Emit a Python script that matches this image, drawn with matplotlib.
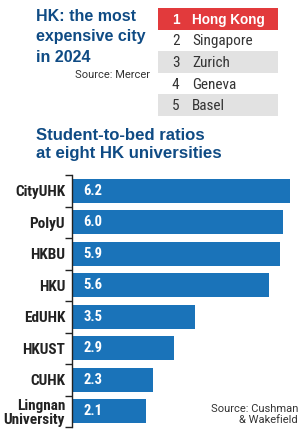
import matplotlib
matplotlib.use("Agg")
import matplotlib.pyplot as plt
from matplotlib import font_manager
from matplotlib.patches import Rectangle

# ---- data ----
title_lines = ["HK: the most", "expensive city", "in 2024"]
title_source = "Source: Mercer"
ranks = ["1", "2", "3", "4", "5"]
cities = ["Hong Kong", "Singapore", "Zurich", "Geneva", "Basel"]
subtitle_lines = ["Student-to-bed ratios", "at eight HK universities"]
universities = ["CityUHK", "PolyU", "HKBU", "HKU", "EdUHK", "HKUST", "CUHK", "Lingnan\nUniversity"]
ratios = [6.2, 6.0, 5.9, 5.6, 3.5, 2.9, 2.3, 2.1]
chart_source = ["Source: Cushman", "& Wakefield"]

# ---- style ----
names = {f.name for f in font_manager.fontManager.ttflist}
COND = next((f for f in ["Roboto Condensed", "Liberation Sans Narrow", "Roboto"] if f in names), "DejaVu Sans")
ROB = "Roboto" if "Roboto" in names else "DejaVu Sans"
LIB = "Liberation Sans" if "Liberation Sans" in names else "DejaVu Sans"
plt.rcParams["font.family"] = [COND, "DejaVu Sans"]
F_COND = [COND, "DejaVu Sans"]
F_ROB = [ROB, "DejaVu Sans"]
F_LIB = [LIB, "DejaVu Sans"]

NAVY = "#0f4b84"
BLUE = "#1a73b9"
RED = "#e23a3c"
GRAY = "#e2e2e2"
DARK = "#222222"
TXT = "#333333"

W, H = 303, 432
fig = plt.figure(figsize=(W / 100, H / 100), dpi=100)
fig.patch.set_facecolor("white")

def fx(x):
    return x / W

def fy(y):
    return 1 - y / H

# ---- title ----
for line, base in zip(title_lines, [20.7, 41.3, 61.7]):
    fig.text(fx(36), fy(base), line, ha="left", va="baseline",
             fontsize=11.5, fontweight="bold", color=NAVY, family=F_LIB)
fig.text(fx(150), fy(78.3), title_source, ha="right", va="baseline",
         fontsize=8.0, color=TXT, family=F_ROB)

# ---- ranking table ----
axt = fig.add_axes([fx(158), fy(116), fx(278) - fx(158), (116 - 8) / H])
axt.set_xlim(0, 120)
axt.set_ylim(len(cities), 0)
axt.axis("off")
row_colors = [RED, "white", GRAY, "white", GRAY]
for i, (r, c) in enumerate(zip(ranks, cities)):
    axt.add_patch(Rectangle((0, i), 120, 1, facecolor=row_colors[i], edgecolor="none"))
    if i == 0:
        kw = dict(fontsize=9.8, color="white", fontweight="bold", family=F_LIB)
    else:
        kw = dict(fontsize=11, color=TXT, fontweight="normal", family=F_COND)
    axt.text(14, i + 0.73, r, ha="left", va="baseline", **kw)
    axt.text(34, i + 0.73, c, ha="left", va="baseline", **kw)

# ---- subtitle ----
for line, base in zip(subtitle_lines, [140, 158]):
    fig.text(fx(36), fy(base), line, ha="left", va="baseline",
             fontsize=12.1, fontweight="bold", color=NAVY, family=F_LIB)

# ---- bar chart ----
ax = fig.add_axes([fx(72), fy(427), 1 - fx(72), (427 - 175) / H])
y = list(range(len(universities)))
ax.barh(y, ratios, height=0.75, color=BLUE)
ax.set_xlim(0, 231 / 35.2)
ax.set_ylim(len(universities) - 0.5, -0.5)
for s in ["top", "right", "bottom"]:
    ax.spines[s].set_visible(False)
ax.spines["left"].set_color(DARK)
ax.spines["left"].set_linewidth(1.0)
ax.set_xticks([])
ax.set_yticks(y)
ax.set_yticklabels(universities, fontsize=11, fontweight="bold", color=DARK,
                   linespacing=1.0, family=F_COND)
ax.tick_params(axis="y", which="major", length=0, pad=5)
ax.set_yticks([i - 0.5 for i in range(len(universities) + 1)], minor=True)
ax.tick_params(axis="y", which="minor", length=5, width=1.0, color=DARK, direction="out")
for yi, v in zip(y, ratios):
    ax.text(0.32, yi, f"{v:.1f}", ha="left", va="center", fontsize=10.5,
            fontweight="bold", color="white", family=F_COND)
ax.set_facecolor("none")

for line, base in zip(chart_source, [412.3, 422.7]):
    fig.text(fx(298), fy(base), line, ha="right", va="baseline",
             fontsize=8, color=TXT, family=F_ROB)

fig.savefig("out.png", dpi=100)
